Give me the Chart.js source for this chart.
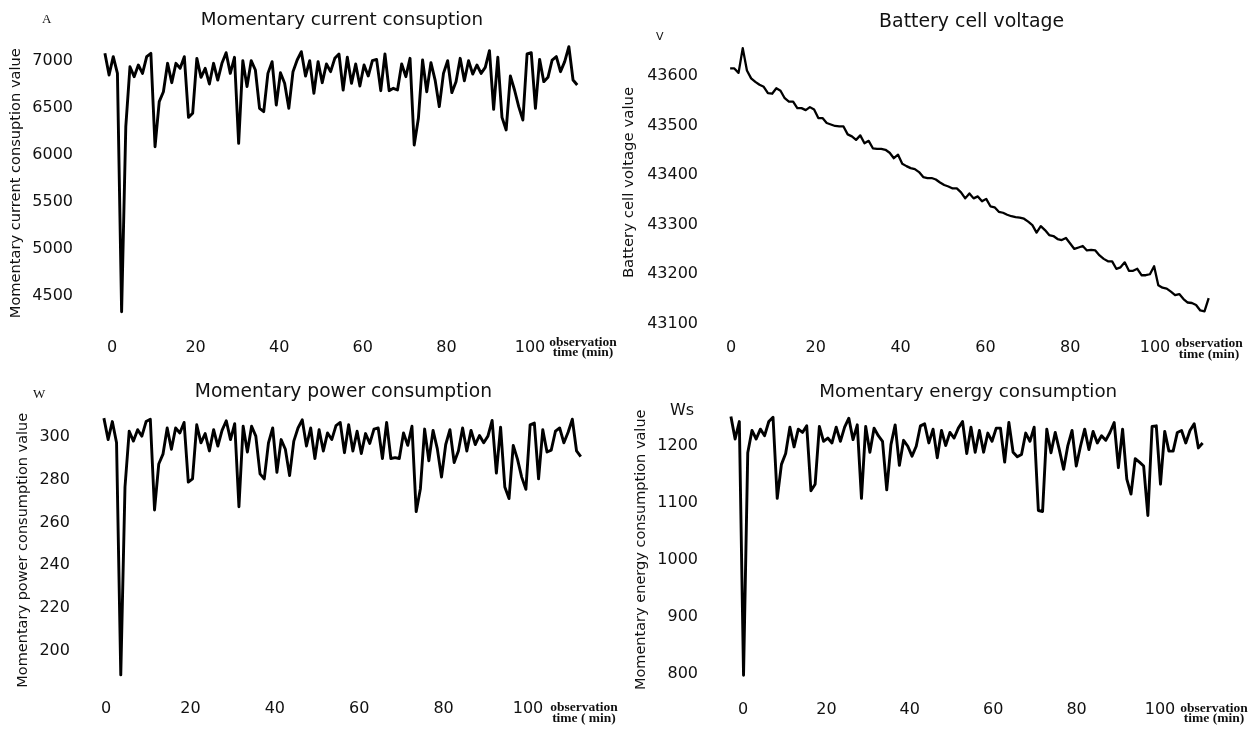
<!DOCTYPE html>
<html>
<head>
<meta charset="utf-8">
<title>Battery measurements</title>
<script src="https://cdn.jsdelivr.net/npm/chart.js"></script>
<style>
  body { margin: 0; background: #fff; width: 1251px; height: 729px; overflow: hidden; position: relative; }
  .panel { position: absolute; }
  .unit { position: absolute; font-family: "DejaVu Sans", sans-serif; line-height: 1; color: #111; white-space: nowrap; }
  .serif { font-family: "Liberation Serif", serif; }
  .obs { position: absolute; width: 80px; text-align: center; font: bold 13.5px/10.5px "Liberation Serif", serif; color: #111; }
</style>
</head>
<body>

<div class="panel" style="left:0;top:0"><canvas id="current" width="625" height="365"></canvas></div>
<div class="panel" style="left:615px;top:0"><canvas id="voltage" width="636" height="365"></canvas></div>
<div class="panel" style="left:0;top:365px"><canvas id="power" width="625" height="364"></canvas></div>
<div class="panel" style="left:615px;top:365px"><canvas id="energy" width="636" height="364"></canvas></div>

<div class="unit serif" style="left:42px;top:12px;font-size:13px">A</div>
<div class="unit" style="left:656px;top:31px;font-size:11px">V</div>
<div class="unit serif" style="left:33px;top:387px;font-size:13px">W</div>
<div class="unit" style="left:670px;top:401.5px;font-size:16px">Ws</div>

<div class="obs" style="left:543px;top:336.6px">observation<br>time (min)</div>
<div class="obs" style="left:1169px;top:338px">observation<br>time (min)</div>
<div class="obs" style="left:544px;top:702px">observation<br>time ( min)</div>
<div class="obs" style="left:1174px;top:702.7px">observation<br>time (min)</div>

<script>
// tick labels
var xTicks = [0, 20, 40, 60, 80, 100];
var currentTicks = [4500, 5000, 5500, 6000, 6500, 7000];
var voltageTicks = [43100, 43200, 43300, 43400, 43500, 43600];
var powerTicks = [200, 220, 240, 260, 280, 300];
var energyTicks = [800, 900, 1000, 1100, 1200];

// values, one per minute
var currentValues = [7081, 6851, 7046, 6868, 4333, 6301, 6939, 6833, 6957, 6868,
	7046, 7081, 6088, 6567, 6673, 6975, 6769, 6975, 6922, 7046,
	6400, 6443, 7028, 6826, 6922, 6755, 6975, 6797, 6975, 7088,
	6868, 7039, 6124, 7003, 6727, 7003, 6904, 6496, 6461, 6868,
	6993, 6532, 6875, 6762, 6496, 6886, 7010, 7099, 6840, 7003,
	6656, 6993, 6769, 6968, 6886, 7028, 7074, 6691, 7039, 6762,
	6968, 6734, 6957, 6840, 7003, 7017, 6684, 7074, 6684, 6709,
	6691, 6968, 6833, 7028, 6106, 6390, 7010, 6673, 6982, 6797,
	6514, 6868, 7003, 6663, 6780, 7028, 6790, 7003, 6861, 6957,
	6868, 6932, 7110, 6485, 7039, 6400, 6266, 6840, 6691, 6514,
	6372, 7074, 7088, 6496, 7017, 6780, 6826, 7010, 7046, 6886,
	6993, 7152, 6797, 6744];

var voltageValues = [43615, 43615, 43606, 43656, 43611, 43595, 43588, 43582, 43578, 43565,
	43564, 43575, 43570, 43555, 43548, 43548, 43535, 43535, 43531, 43537,
	43532, 43515, 43515, 43505, 43502, 43499, 43498, 43498, 43482, 43478,
	43471, 43480, 43464, 43469, 43454, 43453, 43453, 43451, 43445, 43434,
	43441, 43423, 43418, 43414, 43412, 43406, 43396, 43394, 43394, 43391,
	43385, 43380, 43377, 43373, 43373, 43365, 43353, 43363, 43353, 43357,
	43347, 43352, 43337, 43335, 43326, 43324, 43320, 43317, 43315, 43314,
	43312, 43306, 43299, 43284, 43297, 43289, 43279, 43277, 43271, 43269,
	43273, 43262, 43251, 43254, 43257, 43248, 43249, 43248, 43238, 43231,
	43226, 43226, 43211, 43214, 43224, 43207, 43207, 43211, 43198, 43198,
	43200, 43216, 43178, 43173, 43171, 43165, 43158, 43160, 43150, 43143,
	43142, 43138, 43127, 43125, 43152];

var powerValues = [308.6, 298.6, 307.0, 297.1, 188.9, 276.5, 302.5, 297.9, 303.2, 300.2,
	307.0, 308.1, 265.8, 287.2, 291.8, 304.0, 294.1, 304.0, 301.7, 306.6,
	278.8, 280.3, 305.5, 297.1, 301.4, 293.3, 303.2, 295.6, 302.9, 307.4,
	298.6, 306.0, 267.3, 304.8, 292.8, 304.8, 300.2, 282.6, 280.3, 297.1,
	304.0, 283.3, 298.6, 294.1, 281.8, 297.9, 304.0, 307.8, 295.6, 304.0,
	289.8, 303.2, 293.3, 301.7, 298.6, 305.1, 306.6, 292.5, 305.5, 293.3,
	302.5, 292.1, 301.4, 296.8, 303.5, 304.0, 289.8, 306.6, 289.8, 290.2,
	289.8, 301.7, 295.9, 304.8, 265.0, 275.7, 303.5, 288.7, 302.9, 294.4,
	281.1, 296.3, 303.2, 287.9, 293.3, 304.0, 293.3, 302.9, 296.3, 300.5,
	297.1, 300.2, 307.5, 283.0, 304.4, 276.5, 271.1, 295.9, 289.5, 281.1,
	275.4, 305.5, 306.3, 280.3, 303.2, 292.8, 293.7, 302.5, 304.0, 297.1,
	302.0, 308.1, 293.3, 290.7];

var energyValues = [1250.8, 1211.5, 1242.1, 797.7, 1187.3, 1226.5, 1211.5, 1228.8, 1217.3, 1242.1,
	1249.6, 1107.6, 1167.1, 1186.1, 1232.3, 1197.7, 1228.8, 1223.0, 1234.6, 1120.9,
	1132.4, 1233.4, 1207.5, 1213.2, 1204.6, 1232.3, 1207.5, 1232.3, 1247.9, 1210.4,
	1236.3, 1107.6, 1233.4, 1188.4, 1230.6, 1217.3, 1207.5, 1122.6, 1201.7, 1236.3,
	1165.3, 1209.2, 1198.8, 1181.5, 1198.8, 1234.6, 1238.1, 1204.6, 1228.8, 1178.6,
	1226.5, 1200.0, 1223.0, 1213.2, 1230.6, 1242.1, 1186.1, 1232.3, 1188.4, 1226.5,
	1188.4, 1221.9, 1207.5, 1230.6, 1230.6, 1171.1, 1240.4, 1188.4, 1180.3, 1184.4,
	1221.9, 1207.5, 1232.3, 1086.3, 1084.5, 1228.8, 1187.3, 1223.0, 1191.9, 1158.4,
	1200.0, 1226.5, 1164.2, 1198.8, 1228.8, 1193.0, 1224.8, 1204.6, 1217.3, 1209.2,
	1223.0, 1240.4, 1161.3, 1228.8, 1141.1, 1115.1, 1176.9, 1171.1, 1164.2, 1077.6,
	1233.4, 1234.6, 1132.4, 1224.8, 1190.2, 1190.2, 1223.0, 1226.5, 1204.6, 1226.5,
	1238.1, 1195.9, 1204.6];

// time axis of each plot: first sample and sample spacing as seen on the picture
function minutes(start, step, n) {
	var out = [];
	for (var i = 0; i < n; i++) {
		out.push(Math.round((start + i * step) * 100) / 100);
	}
	return out;
}

var currentTimes = minutes(-1.7, 1, currentValues.length);
var voltageTimes = minutes(-0.2, 0.99, voltageValues.length);
var powerTimes = minutes(-0.5, 1, powerValues.length);
var energyTimes = minutes(-2.9, 1.01, energyValues.length);

var ink = '#111';

function makeChart(id, title, yTitle, times, values, yTicks, o) {
	var points = values.map(function (v, i) {
		return { x: times[i], y: v };
	});

	return new Chart(document.getElementById(id), {
		type: 'line',
		data: {
			datasets: [{
				data: points,
				borderColor: '#000',
				borderWidth: o.lineWidth,
				borderJoinStyle: 'round',
				pointRadius: 0,
				tension: 0,
				fill: false
			}]
		},
		options: {
			responsive: false,
			animation: false,
			events: [],
			layout: {
				autoPadding: false,
				padding: { left: o.padLeft, right: o.padRight, top: 0, bottom: 0 }
			},
			plugins: {
				legend: { display: false },
				tooltip: { enabled: false },
				title: {
					display: true,
					text: title,
					fullSize: false,
					color: ink,
					font: { family: 'DejaVu Sans', size: o.titleSize, weight: 'normal' },
					padding: { top: o.titleTop, bottom: o.titleBottom }
				}
			},
			scales: {
				x: {
					type: 'linear',
					min: o.xMin,
					max: o.xMax,
					grid: { display: false, drawTicks: false },
					border: { display: false },
					afterBuildTicks: function (scale) {
						scale.ticks = xTicks.map(function (v) { return { value: v }; });
					},
					afterFit: function (scale) {
						scale.height = o.xHeight;
					},
					ticks: {
						padding: o.xPad,
						color: ink,
						autoSkip: false,
						maxRotation: 0,
						font: { family: 'DejaVu Sans', size: 16 },
						callback: function (v) { return String(v); }
					}
				},
				y: {
					type: 'linear',
					min: o.yMin,
					max: o.yMax,
					grid: { display: false, drawTicks: false },
					border: { display: false },
					afterBuildTicks: function (scale) {
						scale.ticks = yTicks.map(function (v) { return { value: v }; });
					},
					afterFit: function (scale) {
						scale.width = o.yWidth;
					},
					ticks: {
						padding: o.yPad,
						color: ink,
						autoSkip: false,
						font: { family: 'DejaVu Sans', size: 16 },
						callback: function (v) { return String(v); }
					},
					title: {
						display: true,
						text: yTitle,
						color: ink,
						padding: 0,
						font: { family: 'DejaVu Sans', size: o.yTitleSize }
					}
				}
			}
		}
	});
}

makeChart('current', 'Momentary current consuption', 'Momentary current consuption value',
	currentTimes, currentValues, currentTicks, {
		xMin: -2.5, xMax: 112.5, yMin: 4200, yMax: 7200,
		padLeft: 7.7, padRight: 42.75, yWidth: 93.85, yPad: 28.5,
		xHeight: 40.8, xPad: 13.7,
		titleSize: 18.3, titleTop: 9.5, titleBottom: 10.7,
		yTitleSize: 14.6, lineWidth: 2.9
	});

makeChart('voltage', 'Battery cell voltage', 'Battery cell voltage value',
	voltageTimes, voltageValues, voltageTicks, {
		xMin: -1.5, xMax: 115, yMin: 43090, yMax: 43680,
		padLeft: 4.9, padRight: 32.4, yWidth: 104.74, yPad: 26.6,
		xHeight: 34, xPad: 9.9,
		titleSize: 18.9, titleTop: 7.9, titleBottom: 3.1,
		yTitleSize: 14.9, lineWidth: 2.3
	});

makeChart('power', 'Momentary power consumption', 'Momentary power consumption value',
	powerTimes, powerValues, powerTicks, {
		xMin: -1.5, xMax: 114, yMin: 182, yMax: 312,
		padLeft: 14.9, padRight: 37.9, yWidth: 84.77, yPad: 29.7,
		xHeight: 34.8, xPad: 9.2,
		titleSize: 18.7, titleTop: 16.3, titleBottom: 7.1,
		yTitleSize: 14.5, lineWidth: 2.9
	});

makeChart('energy', 'Momentary energy consumption', 'Momentary energy consumption value',
	energyTimes, energyValues, energyTicks, {
		xMin: -4, xMax: 112, yMin: 770, yMax: 1265,
		padLeft: 17.6, padRight: 40.96, yWidth: 93.72, yPad: 28.3,
		xHeight: 34.7, xPad: 9.6,
		titleSize: 18.3, titleTop: 16, titleBottom: 5.5,
		yTitleSize: 14.5, lineWidth: 2.9
	});
</script>
</body>
</html>
